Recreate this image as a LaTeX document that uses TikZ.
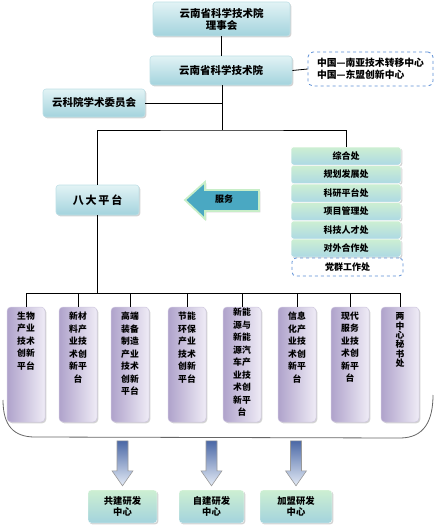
\documentclass[tikz,border=0pt]{standalone}
\usepackage{fontspec}
\setmainfont{Noto Sans CJK SC}
\usetikzlibrary{shadows,calc}
\definecolor{bluetop}{HTML}{E2F3F5}
\definecolor{bluebot}{HTML}{A3D3DD}
\definecolor{blueedge}{HTML}{BFE0E6}
\definecolor{greentop}{HTML}{CDEFD2}
\definecolor{greenbot}{HTML}{ADD9E4}
\definecolor{purpL}{HTML}{AFA2CB}
\definecolor{purpR}{HTML}{EFECF6}
\definecolor{dashblue}{HTML}{5B8ED6}
\definecolor{arrowfill}{HTML}{4AA8C2}
\definecolor{arrowedge}{HTML}{C8EEC8}
\definecolor{dntop}{HTML}{4B68A6}
\definecolor{dnbot}{HTML}{E4EBF6}
\begin{document}
\begin{tikzpicture}[x=1pt,y=-1pt,
  every node/.style={inner sep=0pt},
  ln/.style={draw=black, line width=0.8pt},
  shad/.style={drop shadow={shadow xshift=1.3pt,shadow yshift=-1.3pt,opacity=0.35,fill=gray}},
  bluebox/.style={draw=blueedge, line width=0.6pt, rounded corners=3pt, top color=bluetop, bottom color=bluebot, shad, align=center, font=\bfseries\fontsize{10.5}{12}\selectfont},
  greenbox/.style={draw=white, line width=0.5pt, rounded corners=2.5pt, top color=greentop, bottom color=greenbot, minimum width=110pt, minimum height=18pt, font=\bfseries\fontsize{9}{10}\selectfont, shad},
  dashbox/.style={draw=dashblue, dashed, line width=0.8pt, rounded corners=5pt, fill=white},
  purplebox/.style={draw=purpR!50!purpL, line width=0.5pt, rounded corners=4pt, left color=purpL, right color=purpR, minimum width=38pt, minimum height=115pt, shad},
  ptext/.style={align=center, anchor=north, font=\bfseries\fontsize{8.8}{12.5}\selectfont},
  botbox/.style={draw=white, rounded corners=3pt, top color=greentop, bottom color=bluebot, minimum height=33pt, align=center, shad, font=\bfseries\fontsize{9.3}{11}\selectfont},
  dnarrow/.style={draw=gray!80, line width=0.6pt, top color=dntop, bottom color=dnbot},
  container/.style={draw=gray!80!black, line width=0.8pt}
]
\useasboundingbox (0,0) rectangle (439,527);

% top boxes
\node[bluebox, minimum width=137pt, minimum height=34pt] (lsh) at (221.5,19) {云南省科学技术院\\理事会};
\node[bluebox, minimum width=142pt, minimum height=29pt] (yuan) at (221,70.5) {云南省科学技术院};
\node[dashbox, minimum width=125pt, minimum height=34pt, align=left, font=\bfseries\fontsize{9.8}{12}\selectfont] (zx) at (370.5,69) {中国—南亚技术转移中心\\中国—东盟创新中心};
\node[bluebox, minimum width=102pt, minimum height=28pt] (xw) at (94,103) {云科院学术委员会};
\node[bluebox, minimum width=83pt, minimum height=30pt, font=\bfseries\fontsize{11}{12}\selectfont] (bd) at (97.5,200) {八\,大\,平\,台};

% departments
\node[greenbox] (g1) at (346,156) {综合处};
\node[greenbox] (g2) at (346,174.5) {规划发展处};
\node[greenbox] (g3) at (346,193) {科研平台处};
\node[greenbox] (g4) at (346,211.5) {项目管理处};
\node[greenbox] (g5) at (346,230) {科技人才处};
\node[greenbox] (g6) at (346,248) {对外合作处};
\node[dashbox, minimum width=111pt, minimum height=18pt, rounded corners=4pt, font=\bfseries\fontsize{9}{10}\selectfont] (g7) at (347.5,267) {党群工作处};

% service arrow
\path[draw=arrowedge, line width=1.8pt, fill=arrowfill, line join=miter, shad]
  (185,200) -- (205,182) -- (205,190) -- (259,190) -- (259,211) -- (205,211) -- (205,219) -- cycle;
\node[font=\bfseries\fontsize{9}{10}\selectfont] (fw) at (224,199) {服务};

% connectors top
\coordinate (j1) at (222,130);
\draw[ln] (lsh.south) -- (lsh.south |- yuan.north);
\draw[ln] (yuan.east) -- (zx.west);
\draw[ln] (yuan.south -| j1) -- (j1);
\draw[ln] (xw.east) -- (xw.east -| j1);
\draw[ln] (bd.north) |- (j1) -| (g1.north);

% platforms
\node[purplebox] (p1) at (26,364.5) {};
\node[purplebox] (p2) at (78,364.5) {};
\node[purplebox] (p3) at (130,364.5) {};
\node[purplebox] (p4) at (187,364.5) {};
\node[purplebox] (p5) at (242,364.5) {};
\node[purplebox] (p6) at (297,364.5) {};
\node[purplebox] (p7) at (350,364.5) {};
\node[purplebox] (p8) at (400,364.5) {};
\node[ptext] (t1) at ($(p1.north)+(0,5)$) {生物\\产业\\技术\\创新\\平台};
\node[ptext] (t2) at ($(p2.north)+(0,5)$) {新材\\料产\\业技\\术创\\新平\\台};
\node[ptext] (t3) at ($(p3.north)+(0,5)$) {高端\\装备\\制造\\产业\\技术\\创新\\平台};
\node[ptext] (t4) at ($(p4.north)+(0,5)$) {节能\\环保\\产业\\技术\\创新\\平台};
\node[ptext] (t5) at ($(p5.north)+(0,1)$) {新能\\源与\\新能\\源汽\\车产\\业技\\术创\\新平\\台};
\node[ptext] (t6) at ($(p6.north)+(0,5)$) {信息\\化产\\业技\\术创\\新平\\台};
\node[ptext] (t7) at ($(p7.north)+(0,5)$) {现代\\服务\\业技\\术创\\新平\\台};
\node[ptext, font=\bfseries\fontsize{8.8}{9.3}\selectfont] (t8) at ($(p8.north)+(0,6)$) {两\\中\\心\\秘\\书\\处};

\coordinate (j2) at (97.5,293);
\draw[ln] (bd.south) -- (j2);
\draw[ln] (p1.north) |- (p8.north |- j2) -- (p8.north);
\foreach \p in {p2,p3,p4,p5,p6,p7}{
  \draw[ln] (\p.north) -- (\p.north |- j2);
}

% container
\draw[container] (3,400) .. controls (3,426) and (14,437) .. (35,437) -- (400,438) .. controls (424,438) and (433,421) .. (433,395);

% bottom centres
\node[botbox, minimum width=69pt] (ca) at (122.5,506.5) {共建研发\\中心};
\node[botbox, minimum width=65pt] (cb) at (211.5,506.5) {自建研发\\中心};
\node[botbox, minimum width=72pt] (cc) at (296,506.5) {加盟研发\\中心};
\foreach \n in {ca,cb,cc}{
  \path[dnarrow] ($(\n.north)+(-5.5,-49)$) -- ++(11,0) -- ++(0,30) -- ++(5,0)
    -- ($(\n.north)+(0,-4)$) -- ($(\n.north)+(-10.5,-19)$) -- ++(5,0) -- cycle;
}
\end{tikzpicture}
\end{document}
